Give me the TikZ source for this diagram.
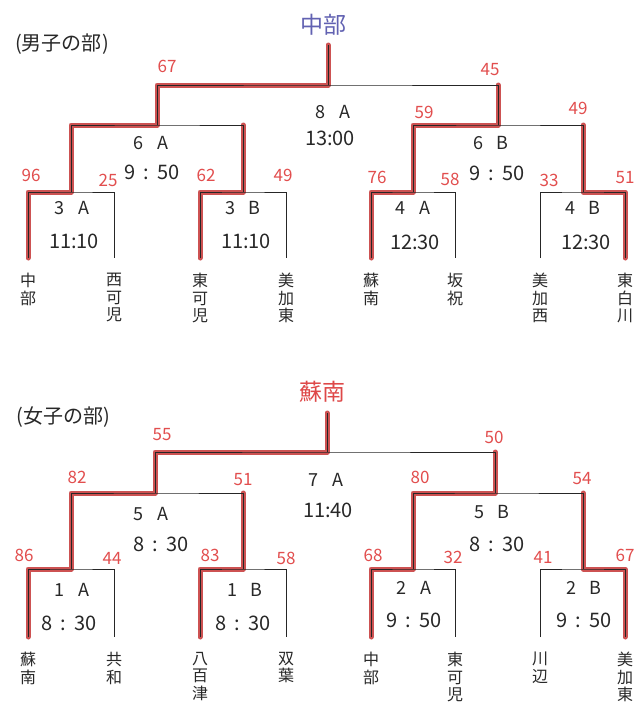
\documentclass[tikz,border=0pt]{standalone}
\usepackage{fontspec}
\setmainfont{Noto Sans CJK JP}
\usetikzlibrary{positioning, calc}
\definecolor{cMark}{RGB}{205, 82, 82}
\definecolor{tScore}{RGB}{226, 78, 78}
\definecolor{tChamp}{RGB}{98, 98, 178}
\definecolor{tWin}{RGB}{222, 72, 72}
\definecolor{tDark}{RGB}{40, 40, 40}
\newcommand{\mlab}[2]{#1\hspace{0.75em}#2}
\newcommand{\tsep}{\hspace{0.4em}:\hspace{0.4em}}

\begin{document}
\begin{tikzpicture}[
    x=1pt, y=-1pt,
    team/.style={anchor=north, align=center, inner sep=0pt,
        font=\fontsize{16}{17.5}\selectfont, text=tDark},
    score/.style={inner sep=0pt, text=tScore, font=\fontsize{17}{17}\selectfont},
    mno/.style={inner sep=0pt, text=tDark, font=\fontsize{18}{18}\selectfont},
    mtime/.style={inner sep=0pt, text=tDark, font=\fontsize{20}{20}\selectfont},
    sect/.style={inner sep=0pt, text=tDark, font=\fontsize{20}{20}\selectfont},
    champ/.style={inner sep=0pt, font=\fontsize{23}{23}\selectfont},
    bline/.style={draw=black!85, line width=0.9pt},
    win/.style={draw=cMark, line width=5pt, line cap=round, line join=round}
]
\useasboundingbox[fill=white] (0,0) rectangle (636,704);

% ---- men
\node[sect] (hm) at (62,44) {(男子の部)};
\node[champ, text=tChamp] (cm) at (323,25) {中部};

\foreach \i/\x/\t in {1/28/{中\\部}, 2/114/{西\\可\\児}, 3/200/{東\\可\\児}, 4/286/{美\\加\\東},
                      5/371/{蘇\\南}, 6/455/{坂\\祝}, 7/540/{美\\加\\西}, 8/625/{東\\白\\川}} {
    \coordinate (mt\i) at (\x,258);
    \node[team, below=15pt of mt\i] (m\i) {\t};
}
\coordinate (j3a) at (71,192);
\coordinate (j3b) at (243,192);
\coordinate (j4a) at (413,192);
\coordinate (j4b) at (583,192);
\coordinate (j6a) at (157,125);
\coordinate (j6b) at (498,125);
\coordinate (jfm) at (328,85);
\coordinate (tm) at (328,45);

\draw[win] (mt1) |- (j3a) |- (j6a) |- (jfm) -- (tm);
\draw[win] (mt3) |- (j3b) -- (j3b |- j6a);
\draw[win] (mt5) |- (j4a) |- (j6b) -- (j6b |- jfm);
\draw[win] (mt8) |- (j4b) -- (j4b |- j6b);

\draw[bline] (mt1) |- (j3a) -| (mt2);
\draw[bline] (mt3) |- (j3b) -| (mt4);
\draw[bline] (mt5) |- (j4a) -| (mt6);
\draw[bline] (mt7) |- (j4b) -| (mt8);
\draw[bline] (j3a) |- (j6a) -| (j3b);
\draw[bline] (j4a) |- (j6b) -| (j4b);
\draw[bline] (j6a) |- (jfm) -| (j6b);
\draw[bline] (jfm) -- (tm);

\node[mno] (n8a) at (333,112) {\mlab{8}{A}};
\node[mtime] (t8a) at (330,138) {13:00};
\node[mno] (n6a) at (151,143) {\mlab{6}{A}};
\node[mtime] (t6a) at (152,172) {9\tsep 50};
\node[mno] (n6b) at (491,143) {\mlab{6}{B}};
\node[mtime] (t6b) at (497,173) {9\tsep 50};
\node[mno] (n3a) at (72,208) {\mlab{3}{A}};
\node[mtime] (t3a) at (74,241) {11:10};
\node[mno] (n3b) at (243,208) {\mlab{3}{B}};
\node[mtime] (t3b) at (246,241) {11:10};
\node[mno] (n4a) at (413,208) {\mlab{4}{A}};
\node[mtime] (t4a) at (415,242) {12:30};
\node[mno] (n4b) at (583,208) {\mlab{4}{B}};
\node[mtime] (t4b) at (586,242) {12:30};

\node[score] (p8aL) at (167,66) {67};
\node[score] (p8aR) at (490,70) {45};
\node[score] (p6bL) at (424,112) {59};
\node[score] (p6bR) at (578,108) {49};
\node[score] (p3aL) at (31,175) {96};
\node[score] (p3aR) at (108,180) {25};
\node[score] (p3bL) at (206,175) {62};
\node[score] (p3bR) at (283,175) {49};
\node[score] (p4aL) at (377,177) {76};
\node[score] (p4aR) at (450,179) {58};
\node[score] (p4bL) at (549,180) {33};
\node[score] (p4bR) at (625,178) {51};

% ---- women
\node[sect] (hw) at (63,417) {(女子の部)};
\node[champ, text=tWin] (cw) at (322,392) {蘇南};

\foreach \i/\x/\t in {1/28/{蘇\\南}, 2/114/{共\\和}, 3/200/{八\\百\\津}, 4/286/{双\\葉},
                      5/371/{中\\部}, 6/455/{東\\可\\児}, 7/540/{川\\辺}, 8/625/{美\\加\\東}} {
    \coordinate (wt\i) at (\x,637);
    \node[team, below=15pt of wt\i] (w\i) {\t};
}
\coordinate (k1a) at (71,569);
\coordinate (k1b) at (243,569);
\coordinate (k2a) at (413,569);
\coordinate (k2b) at (583,569);
\coordinate (k5a) at (155,493);
\coordinate (k5b) at (495,493);
\coordinate (kfw) at (327,452);
\coordinate (tw) at (327,413);

\draw[win] (wt1) |- (k1a) |- (k5a) |- (kfw) -- (tw);
\draw[win] (wt3) |- (k1b) -- (k1b |- k5a);
\draw[win] (wt5) |- (k2a) |- (k5b) -- (k5b |- kfw);
\draw[win] (wt8) |- (k2b) -- (k2b |- k5b);

\draw[bline] (wt1) |- (k1a) -| (wt2);
\draw[bline] (wt3) |- (k1b) -| (wt4);
\draw[bline] (wt5) |- (k2a) -| (wt6);
\draw[bline] (wt7) |- (k2b) -| (wt8);
\draw[bline] (k1a) |- (k5a) -| (k1b);
\draw[bline] (k2a) |- (k5b) -| (k2b);
\draw[bline] (k5a) |- (kfw) -| (k5b);
\draw[bline] (kfw) -- (tw);

\node[mno] (n7a) at (326,480) {\mlab{7}{A}};
\node[mtime] (t7a) at (328,510) {11:40};
\node[mno] (n5a) at (151,514) {\mlab{5}{A}};
\node[mtime] (t5a) at (161,544) {8\tsep 30};
\node[mno] (n5b) at (492,512) {\mlab{5}{B}};
\node[mtime] (t5b) at (497,544) {8\tsep 30};
\node[mno] (n1a) at (72,590) {\mlab{1}{A}};
\node[mtime] (t1a) at (69,623) {8\tsep 30};
\node[mno] (n1b) at (245,590) {\mlab{1}{B}};
\node[mtime] (t1b) at (243,623) {8\tsep 30};
\node[mno] (n2a) at (414,588) {\mlab{2}{A}};
\node[mtime] (t2a) at (414,620) {9\tsep 50};
\node[mno] (n2b) at (584,588) {\mlab{2}{B}};
\node[mtime] (t2b) at (584,620) {9\tsep 50};

\node[score] (q7aL) at (162,435) {55};
\node[score] (q7aR) at (494,437) {50};
\node[score] (q5aL) at (77,477) {82};
\node[score] (q5aR) at (243,480) {51};
\node[score] (q5bL) at (420,477) {80};
\node[score] (q5bR) at (582,479) {54};
\node[score] (q1aL) at (24,555) {86};
\node[score] (q1aR) at (112,558) {44};
\node[score] (q1bL) at (210,555) {83};
\node[score] (q1bR) at (286,558) {58};
\node[score] (q2aL) at (373,555) {68};
\node[score] (q2aR) at (453,557) {32};
\node[score] (q2bL) at (543,557) {41};
\node[score] (q2bR) at (625,555) {67};

\end{tikzpicture}
\end{document}
